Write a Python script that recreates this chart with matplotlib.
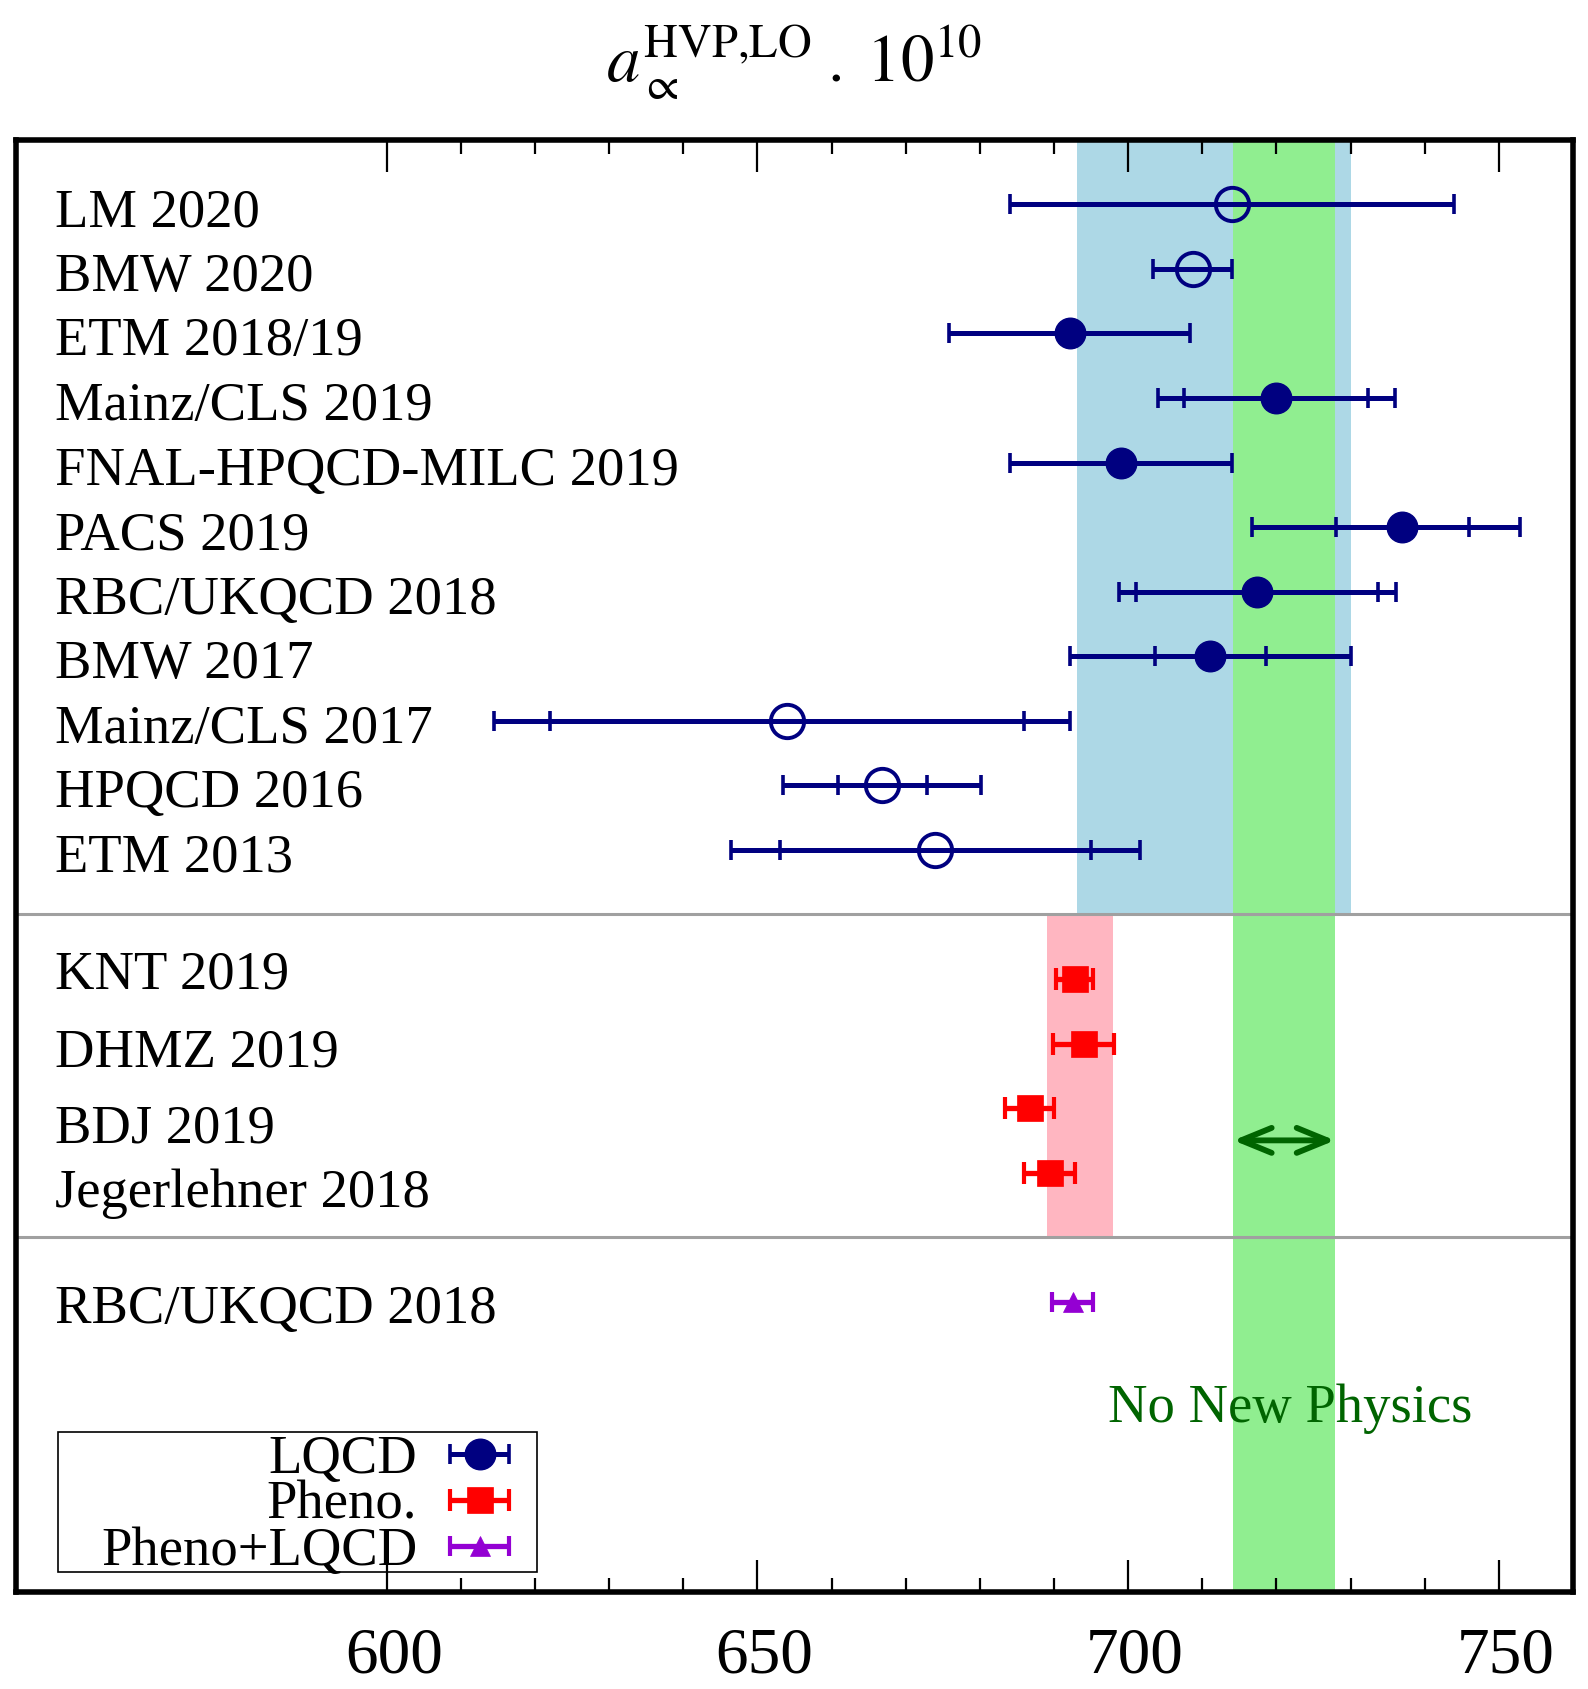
import numpy as np
import matplotlib
matplotlib.use("Agg")
import matplotlib.pyplot as plt
from matplotlib.container import ErrorbarContainer
from matplotlib.legend_handler import HandlerErrorbar
from matplotlib.patches import Rectangle
from matplotlib.transforms import ScaledTranslation

plt.rcParams['font.family'] = ['Liberation Serif', 'DejaVu Serif']
plt.rcParams['mathtext.fontset'] = 'stix'

# lattice QCD results (a_mu^HVP,LO * 1e10)
lqcd_names = ['LM 2020', 'BMW 2020', 'ETM 2018/19', 'Mainz/CLS 2019',
              'FNAL-HPQCD-MILC 2019', 'PACS 2019', 'RBC/UKQCD 2018',
              'BMW 2017', 'Mainz/CLS 2017', 'HPQCD 2016', 'ETM 2013']
lqcd_value = [714.0, 708.7, 692.1, 720.0, 699.0, 737.0, 717.4, 711.1, 654.0, 666.8, 674.0]
lqcd_in_lo = [30.0, 5.3, 16.3, 12.4, 15.0, 9.0, 16.3, 7.5, 32.0, 6.0, 21.0]
lqcd_in_hi = [30.0, 5.3, 16.3, 12.4, 15.0, 9.0, 16.3, 7.5, 32.0, 6.0, 21.0]
# total errors (0 = only one error bar shown)
lqcd_tot_lo = [0, 0, 0, 16.0, 0, 20.3, 18.7, 18.9, 39.5, 13.4, 27.6]
lqcd_tot_hi = [0, 0, 0, 16.0, 0, 15.9, 18.7, 18.9, 38.1, 13.4, 27.6]
lqcd_open = [True, True, False, False, False, False, False, False, True, True, True]

# data-driven (pheno) results
pheno_names = ['KNT 2019', 'DHMZ 2019', 'BDJ 2019', 'Jegerlehner 2018']
pheno_value = [692.8, 694.0, 686.7, 689.4]
pheno_err = [2.5, 4.1, 3.3, 3.4]

# pheno + lattice
combo_names = ['RBC/UKQCD 2018']
combo_value = [692.5]
combo_err = [2.8]

# bands
lqcd_band = (693.1, 730.0)
pheno_band = (689.0, 697.9)
nnp_band = (714.2, 727.9)

x_ticks = [600, 650, 700, 750]

NAVY = '#000080'
RED = '#ff0000'
VIOLET = '#9400d3'


def thick_caps(cont, w):
    for cl in cont.lines[1]:
        cl.set_markeredgewidth(w)


fig = plt.figure(figsize=(15.88, 16.89), dpi=100)
ax = fig.add_axes([0.0102, 0.0573, 0.9803, 0.8599])

n1 = len(lqcd_names)
n2 = len(pheno_names)
y_lqcd = np.arange(1, n1 + 1)
sep1 = n1 + 1
y_pheno = np.arange(sep1 + 1, sep1 + 1 + n2)
sep2 = sep1 + n2 + 1
y_combo = np.arange(sep2 + 1, sep2 + 1 + len(combo_names))
y_bottom = 22.5

# bands
ax.fill_betweenx([0, sep1], lqcd_band[0], lqcd_band[1], color='#add8e6', lw=0, zorder=0)
ax.fill_betweenx([sep1, sep2], pheno_band[0], pheno_band[1], color='#ffb6c1', lw=0, zorder=0)
ax.axvspan(nnp_band[0], nnp_band[1], color='#90ee90', lw=0, zorder=0.5)

ax.axhline(sep1, color='#a0a0a0', lw=2.2, zorder=1)
ax.axhline(sep2, color='#a0a0a0', lw=2.2, zorder=1)

val = np.array(lqcd_value)
ilo, ihi = np.array(lqcd_in_lo), np.array(lqcd_in_hi)
tlo, thi = np.array(lqcd_tot_lo), np.array(lqcd_tot_hi)
op = np.array(lqcd_open)
two = tlo > 0

ebkw = dict(ecolor=NAVY, elinewidth=3.6, capsize=7.5, zorder=3)
# outer (total) error bars
c = ax.errorbar(val[two], y_lqcd[two], xerr=[tlo[two], thi[two]], fmt='none', **ebkw)
thick_caps(c, 2.6)
# filled points
h_lqcd = ax.errorbar(val[~op], y_lqcd[~op], xerr=[ilo[~op], ihi[~op]], fmt='o',
                     color=NAVY, ms=22, mew=1, mec=NAVY, label='LQCD', **ebkw)
thick_caps(h_lqcd, 2.6)
# open points
c = ax.errorbar(val[op], y_lqcd[op], xerr=[ilo[op], ihi[op]], fmt='o', color=NAVY,
                mfc='none', mec=NAVY, ms=24, mew=2.8, **ebkw)
thick_caps(c, 2.6)

h_pheno = ax.errorbar(pheno_value, y_pheno, xerr=pheno_err, fmt='s', color=RED,
                      ecolor=RED, ms=18.5, mew=0.5, elinewidth=3.8, capsize=8.2,
                      zorder=3, label='Pheno.')
thick_caps(h_pheno, 3.0)
h_combo = ax.errorbar(combo_value, y_combo, xerr=combo_err, fmt='^', color=VIOLET,
                      ecolor=VIOLET, ms=14, mew=0.5, elinewidth=3.8, capsize=7.5,
                      zorder=3, label='Pheno+LQCD')
thick_caps(h_combo, 3.0)

# labels
lab_x = 555.2
lab_size = 39.3
for name, y in zip(lqcd_names, y_lqcd):
    ax.text(lab_x, y + 0.34, name, fontsize=lab_size, va='baseline', ha='left')
pheno_shift = [0.15, 0.35, 0.53, 0.53]
for name, y, s in zip(pheno_names, y_pheno, pheno_shift):
    ax.text(lab_x, y + s, name, fontsize=lab_size, va='baseline', ha='left')
for name, y in zip(combo_names, y_combo):
    ax.text(lab_x, y + 0.33, name, fontsize=lab_size, va='baseline', ha='left')

# width of the "no new physics" band
ax.annotate('', xy=(nnp_band[1], 15.5), xytext=(nnp_band[0], 15.5),
            arrowprops=dict(arrowstyle='<->,head_length=1.1,head_width=0.45',
                            lw=4.2, color='#006400', shrinkA=0, shrinkB=0,
                            mutation_scale=20), zorder=4)
ax.text(np.mean(nnp_band) + 0.8, 19.86, 'No New Physics', color='#006400',
        fontsize=lab_size, ha='center', va='baseline', zorder=4)

ax.set_xlim(550, 760)
ax.set_ylim(y_bottom, 0)

ax.set_xticks(x_ticks)
ax.set_xticks(np.arange(600, 750, 10), minor=True)
ax.tick_params(axis='x', which='both', direction='in', top=True, bottom=True,
               labelsize=47, pad=25, width=1.6, colors='black')
ax.tick_params(axis='x', which='major', length=23)
ax.tick_params(axis='x', which='minor', length=10)
ax.tick_params(axis='y', left=False, labelleft=False)
shift = ScaledTranslation(7 / 100, 0, fig.dpi_scale_trans)
for lbl in ax.get_xticklabels():
    lbl.set_transform(lbl.get_transform() + shift)

for sp in ax.spines.values():
    sp.set_linewidth(4)
    sp.set_zorder(6)

# legend frame and content
ax.add_patch(Rectangle((0.0267, 0.0142), 0.3078, 0.0964, transform=ax.transAxes,
                       fill=False, edgecolor='black', lw=1.2, zorder=5))
leg = ax.legend(handles=[h_lqcd, h_pheno, h_combo], loc='lower right',
                bbox_to_anchor=(0.3166, 0.0105), markerfirst=False,
                fontsize=lab_size, frameon=False, borderpad=0.0,
                labelspacing=-0.08, handlelength=1.08, handletextpad=0.6,
                borderaxespad=0,
                handler_map={ErrorbarContainer: HandlerErrorbar(xerr_size=0.54)})
leg.set_zorder(5)

fig.text(0.5, 1 - 81.7 / 1689, r'$a_{\propto}^{\mathrm{HVP{,}LO}}\;.\;10^{10}$',
         ha='center', va='baseline', fontsize=48)

fig.savefig('out.png', dpi=100)
